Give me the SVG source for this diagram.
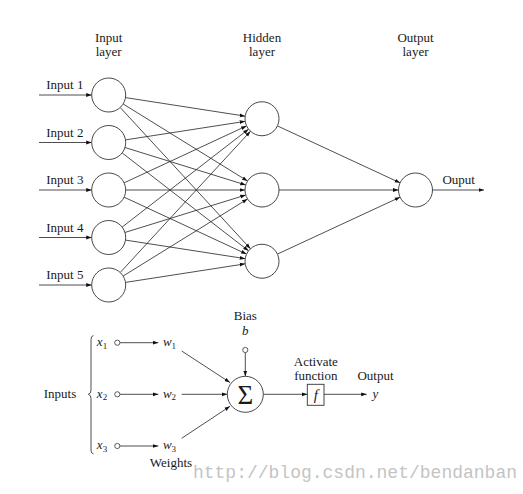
<svg xmlns="http://www.w3.org/2000/svg" width="523" height="494" viewBox="0 0 523 494">
<defs>
<marker id="ah" markerWidth="6" markerHeight="5" refX="5.5" refY="2.5" orient="auto" markerUnits="userSpaceOnUse">
<path d="M0,0.6 L5.5,2.5 L0,4.4 Z" fill="#111"/>
</marker>
</defs>
<style>
text{font-family:"Liberation Serif","Times New Roman",serif}
.t{font-size:13px;fill:#1a1a1a;text-anchor:middle}
.m{font-style:italic}
.n{fill:#fff;stroke:#333;stroke-width:0.9}
.s{fill:#fff;stroke:#333;stroke-width:0.8}
.e{stroke:#222;stroke-width:0.8;fill:none;marker-end:url(#ah)}
.l{stroke:#222;stroke-width:0.8;fill:none}
.sub{font-size:9px;font-style:normal}
.wm{font-family:"Liberation Mono","Courier New",monospace;font-size:18px;fill:#c4c4c4;text-anchor:end}
</style>
<rect width="523" height="494" fill="#fff"/>
<g id="labels">
<text class="t" x="108.7" y="42">Input</text><text class="t" x="108.7" y="56">layer</text>
<text class="t" x="262" y="42">Hidden</text><text class="t" x="262" y="56">layer</text>
<text class="t" x="415.5" y="42">Output</text><text class="t" x="415.5" y="56">layer</text>
</g>
<g id="connectors">
<line class="e" x1="39" y1="95" x2="91.7" y2="95"/>
<line class="e" x1="39" y1="142.5" x2="91.7" y2="142.5"/>
<line class="e" x1="39" y1="190" x2="91.7" y2="190"/>
<line class="e" x1="39" y1="237.5" x2="91.7" y2="237.5"/>
<line class="e" x1="39" y1="285" x2="91.7" y2="285"/>
<line class="e" x1="125.5" y1="97.6" x2="245.2" y2="116.15"/>
<line class="e" x1="123.15" y1="103.96" x2="247.55" y2="181.04"/>
<line class="e" x1="120.22" y1="107.5" x2="250.48" y2="248.75"/>
<line class="e" x1="125.5" y1="139.9" x2="245.2" y2="121.35"/>
<line class="e" x1="124.94" y1="147.53" x2="245.76" y2="184.97"/>
<line class="e" x1="122.14" y1="152.91" x2="248.56" y2="250.84"/>
<line class="e" x1="124.12" y1="182.83" x2="246.58" y2="125.92"/>
<line class="e" x1="125.7" y1="190" x2="245" y2="190"/>
<line class="e" x1="124.12" y1="197.17" x2="246.58" y2="254.08"/>
<line class="e" x1="122.14" y1="227.09" x2="248.56" y2="129.16"/>
<line class="e" x1="124.94" y1="232.47" x2="245.76" y2="195.03"/>
<line class="e" x1="125.5" y1="240.1" x2="245.2" y2="258.65"/>
<line class="e" x1="120.22" y1="272.5" x2="250.48" y2="131.25"/>
<line class="e" x1="123.15" y1="276.04" x2="247.55" y2="198.96"/>
<line class="e" x1="125.5" y1="282.4" x2="245.2" y2="263.85"/>
<line class="e" x1="277.42" y1="125.91" x2="400.08" y2="182.84"/>
<line class="e" x1="279" y1="190" x2="398.5" y2="190"/>
<line class="e" x1="277.42" y1="254.09" x2="400.08" y2="197.16"/>
<line class="e" x1="432.5" y1="190" x2="484" y2="190"/>
<line class="e" x1="120" y1="342.7" x2="158.3" y2="342.7"/>
<line class="e" x1="120" y1="394.3" x2="158.3" y2="394.3"/>
<line class="e" x1="120" y1="446" x2="158.3" y2="446"/>
<line class="e" x1="181.7" y1="351" x2="230" y2="382.5"/>
<line class="e" x1="181.7" y1="394.3" x2="227.3" y2="394.3"/>
<line class="e" x1="181.7" y1="438.3" x2="230" y2="406.3"/>
<line class="e" x1="245.3" y1="352.5" x2="245.3" y2="376.3"/>
<line class="e" x1="263.3" y1="394.3" x2="307.3" y2="394.3"/>
<line class="e" x1="324" y1="394.3" x2="366.7" y2="394.3"/>
<path class="l" d="M93.5,335.5 Q91,336 91,339.5 L91,390 Q91,393.8 88.3,394.3 Q91,394.8 91,398.6 L91,450 Q91,453.5 93.5,454"/>
</g>
<g id="in1"><circle class="n" cx="108.7" cy="95" r="17"/><text class="t" x="64.8" y="89">Input 1</text></g>
<g id="in2"><circle class="n" cx="108.7" cy="142.5" r="17"/><text class="t" x="64.8" y="136.5">Input 2</text></g>
<g id="in3"><circle class="n" cx="108.7" cy="190" r="17"/><text class="t" x="64.8" y="184">Input 3</text></g>
<g id="in4"><circle class="n" cx="108.7" cy="237.5" r="17"/><text class="t" x="64.8" y="231.5">Input 4</text></g>
<g id="in5"><circle class="n" cx="108.7" cy="285" r="17"/><text class="t" x="64.8" y="279">Input 5</text></g>
<g id="h1"><circle class="n" cx="262" cy="118.75" r="17"/></g>
<g id="h2"><circle class="n" cx="262" cy="190" r="17"/></g>
<g id="h3"><circle class="n" cx="262" cy="261.25" r="17"/></g>
<g id="out"><circle class="n" cx="415.5" cy="190" r="17"/><text class="t" x="458.7" y="184">Ouput</text></g>
<g id="inputs"><text class="t" x="60" y="398">Inputs</text></g>
<g id="x1"><text class="t m" x="102" y="346">x<tspan class="sub" dy="2.5">1</tspan></text><circle class="s" cx="117.3" cy="342.7" r="2.6"/></g>
<g id="x2"><text class="t m" x="102" y="397.6">x<tspan class="sub" dy="2.5">2</tspan></text><circle class="s" cx="117.3" cy="394.3" r="2.6"/></g>
<g id="x3"><text class="t m" x="102" y="449.3">x<tspan class="sub" dy="2.5">3</tspan></text><circle class="s" cx="117.3" cy="446" r="2.6"/></g>
<g id="w1"><text class="t m" x="169.5" y="346">w<tspan class="sub" dy="2.5">1</tspan></text></g>
<g id="w2"><text class="t m" x="169.5" y="397.6">w<tspan class="sub" dy="2.5">2</tspan></text></g>
<g id="w3"><text class="t m" x="169.5" y="449.3">w<tspan class="sub" dy="2.5">3</tspan></text></g>
<g id="weights"><text class="t" x="171" y="467">Weights</text></g>
<g id="bias"><text class="t" x="245.3" y="320">Bias</text><text class="t m" x="245.3" y="335">b</text><circle class="s" cx="245.3" cy="350" r="2.6"/></g>
<g id="sum"><circle class="n" cx="245.3" cy="394.3" r="18"/><text class="t" x="245.3" y="403.5" style="font-size:27px">Σ</text></g>
<g id="act"><text class="t" x="315.8" y="366">Activate</text><text class="t" x="315.8" y="380">function</text><rect class="n" x="307.3" y="384.3" width="16.7" height="21"/><text class="t m" x="315.8" y="399.5" style="font-size:15px">f</text></g>
<g id="y"><text class="t" x="375.5" y="380">Output</text><text class="t m" x="375.3" y="397.5">y</text></g>
<text class="wm" x="517" y="478">http://blog.csdn.net/bendanban</text>
</svg>
